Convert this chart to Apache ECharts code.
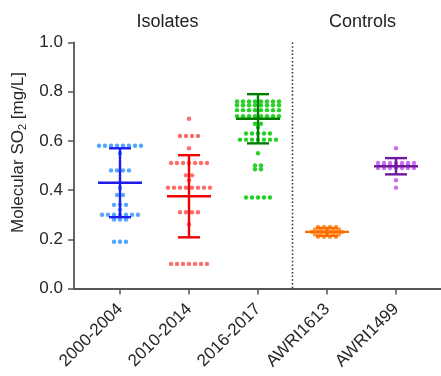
<!DOCTYPE html>
<html>
<head>
<meta charset="utf-8">
<script src="https://cdn.jsdelivr.net/npm/echarts@6/dist/echarts.min.js"></script>
<style>html,body{margin:0;padding:0;background:#fff}#c{width:441px;height:376px}</style>
</head>
<body>
<div id="c"></div>
<script>
const categories = ['2000-2004', '2010-2014', '2016-2017', 'AWRI1613', 'AWRI1499'];
const groupLabels = ['Isolates', 'Controls'];
const isolateCount = 3;
const yTickLabels = ['0.0', '0.2', '0.4', '0.6', '0.8', '1.0'];

const vals2000 = [0.58,0.58,0.58,0.58,0.58,0.58,0.58,0.58,0.55,0.48,0.48,0.48,0.48,0.41,0.38,0.38,
  0.34,0.34,0.34,0.32,0.30,0.30,0.30,0.30,0.30,0.30,0.30,0.28,0.28,0.28,0.19,0.19,0.19];
const vals2010 = [0.69,0.62,0.62,0.62,0.62,0.57,0.51,0.51,0.51,0.51,0.51,0.51,0.51,0.46,0.46,0.44,
  0.41,0.41,0.41,0.41,0.41,0.41,0.41,0.41,0.31,0.31,0.31,0.31,0.26,0.10,0.10,0.10,0.10,0.10,0.10,0.10];
const vals2016 = [0.76,0.76,0.76,0.76,0.76,0.76,0.76,0.76,0.745,0.745,0.745,0.745,0.745,0.745,0.745,0.745,
  0.725,0.725,0.725,0.725,0.725,0.725,0.725,0.725,0.70,0.70,0.70,0.70,0.70,0.70,0.70,0.70,
  0.67,0.67,0.655,0.63,0.63,0.63,0.63,0.63,0.605,0.605,0.605,0.605,0.605,0.605,0.605,
  0.55,0.50,0.50,0.485,0.485,0.37,0.37,0.37,0.37,0.37];
const valsAWRI1613 = [0.25,0.25,0.25,0.25,0.24,0.24,0.24,0.24,0.24,0.23,0.23,0.23,0.23,0.23,0.23,
  0.22,0.22,0.22,0.22,0.22,0.21,0.21,0.21,0.21];
const valsAWRI1499 = [0.57,0.51,0.51,0.51,0.51,0.51,0.51,0.51,0.50,0.50,0.50,0.50,0.50,
  0.49,0.49,0.49,0.49,0.49,0.49,0.49,0.44,0.41];

const means = [0.43, 0.375, 0.69, 0.23, 0.497];
const sds = [0.14, 0.167, 0.10, 0.016, 0.033];

const groups = [vals2000, vals2010, vals2016, valsAWRI1613, valsAWRI1499];
const dotColors = ['#3f9cff', '#ff5c5c', '#10cc10', '#ff8d1f', '#c460f0'];
const barColors = ['#1c1cf0', '#f20000', '#007d00', '#ff6a00', '#6e1a9e'];

const SPACING = 6;
const FONT = 'Liberation Sans, Arial, sans-serif';

function rowData(ci, vals) {
  const counts = {}, seen = {};
  vals.forEach(v => { counts[v] = (counts[v] || 0) + 1; });
  return vals.map(v => {
    const idx = seen[v] || 0; seen[v] = idx + 1;
    return [ci, v, idx, counts[v]];
  });
}

const series = [];
groups.forEach((vals, ci) => {
  series.push({
    type: 'custom', xAxisIndex: 0, yAxisIndex: 0,
    data: rowData(ci, vals),
    renderItem: function (params, api) {
      const p = api.coord([api.value(0), api.value(1)]);
      const dx = (api.value(2) - (api.value(3) - 1) / 2) * SPACING;
      return { type: 'circle', shape: { cx: p[0] + dx, cy: p[1], r: 2.2 },
        style: { fill: dotColors[ci], opacity: 0.9 } };
    },
    z: 2
  });
});
groups.forEach((vals, ci) => {
  series.push({
    type: 'custom', xAxisIndex: 0, yAxisIndex: 0,
    data: [[ci, means[ci], sds[ci]]],
    renderItem: function (params, api) {
      const c = api.value(0), m = api.value(1), s = api.value(2);
      const pm = api.coord([c, m]), pt = api.coord([c, m + s]), pb = api.coord([c, m - s]);
      const st = { stroke: barColors[ci], lineWidth: 2.4 };
      return { type: 'group', children: [
        { type: 'line', shape: { x1: pt[0], y1: pt[1], x2: pb[0], y2: pb[1] }, style: st },
        { type: 'line', shape: { x1: pt[0] - 11, y1: pt[1], x2: pt[0] + 11, y2: pt[1] }, style: st },
        { type: 'line', shape: { x1: pb[0] - 11, y1: pb[1], x2: pb[0] + 11, y2: pb[1] }, style: st },
        { type: 'line', shape: { x1: pm[0] - 22, y1: pm[1], x2: pm[0] + 22, y2: pm[1] }, style: st }
      ] };
    },
    z: 3
  });
});
series.push({
  type: 'custom', xAxisIndex: 0, yAxisIndex: 0,
  data: [[isolateCount - 1, isolateCount]],
  renderItem: function (params, api) {
    const a = api.coord([api.value(0), 0]), b = api.coord([api.value(1), 1]);
    const x = (a[0] + b[0]) / 2;
    return { type: 'line', shape: { x1: x, y1: b[1], x2: x, y2: a[1] },
      style: { stroke: '#333', lineWidth: 1.6, lineDash: [1.5, 2.2] } };
  },
  z: 1
});

const chart = echarts.init(document.getElementById('c'));
chart.setOption({
  animation: false,
  grid: [
    { left: 85.5, right: 10.5, top: 42.5, bottom: 87.5, containLabel: false, outerBoundsMode: 'none' },
    { left: 74, right: 0, top: 42.5, bottom: 87.5, containLabel: false, outerBoundsMode: 'none' }
  ],
  xAxis: [
    { type: 'category', gridIndex: 0, data: categories, boundaryGap: true,
      axisLine: { show: false },
      axisTick: { show: true, alignWithLabel: true, length: 6, lineStyle: { color: '#555', width: 1.5 } },
      axisLabel: { rotate: 45, fontSize: 17, color: '#262626', margin: 18, fontFamily: FONT },
      splitLine: { show: false } },
    { type: 'value', gridIndex: 1, min: 0, max: 1,
      axisLine: { show: true, lineStyle: { color: '#555', width: 1.8 } },
      axisTick: { show: false }, axisLabel: { show: false }, splitLine: { show: false } }
  ],
  yAxis: [
    { type: 'value', gridIndex: 0, min: 0, max: 1, show: false },
    { type: 'value', gridIndex: 1, min: 0, max: 1, interval: 0.2,
      axisLine: { show: true, lineStyle: { color: '#555', width: 1.8 } },
      axisTick: { show: true, length: 6, lineStyle: { color: '#555', width: 1.5 } },
      axisLabel: { fontSize: 17, color: '#262626', margin: 11, fontFamily: FONT,
        formatter: (v) => yTickLabels[Math.round(v / 0.2)] },
      splitLine: { show: false },
      name: '{a|Molecular SO}{b|2}{a| [mg/L]}',
      nameLocation: 'middle', nameGap: 46, nameRotate: 90,
      nameTextStyle: { padding: [0, 0, 0, 26],
        rich: {
          a: { fontSize: 17, color: '#262626', fontFamily: FONT, lineHeight: 20 },
          b: { fontSize: 11, color: '#262626', fontFamily: FONT, lineHeight: 11, verticalAlign: 'bottom', padding: [6, 0, 0, 0] }
        } } }
  ],
  graphic: [
    { type: 'text', x: 167.5, y: 22, style: { text: groupLabels[0], textAlign: 'center', textVerticalAlign: 'middle', font: '18px ' + FONT, fill: '#222' } },
    { type: 'text', x: 362.5, y: 22, style: { text: groupLabels[1], textAlign: 'center', textVerticalAlign: 'middle', font: '18px ' + FONT, fill: '#222' } }
  ],
  series: series
});
</script>
</body>
</html>
